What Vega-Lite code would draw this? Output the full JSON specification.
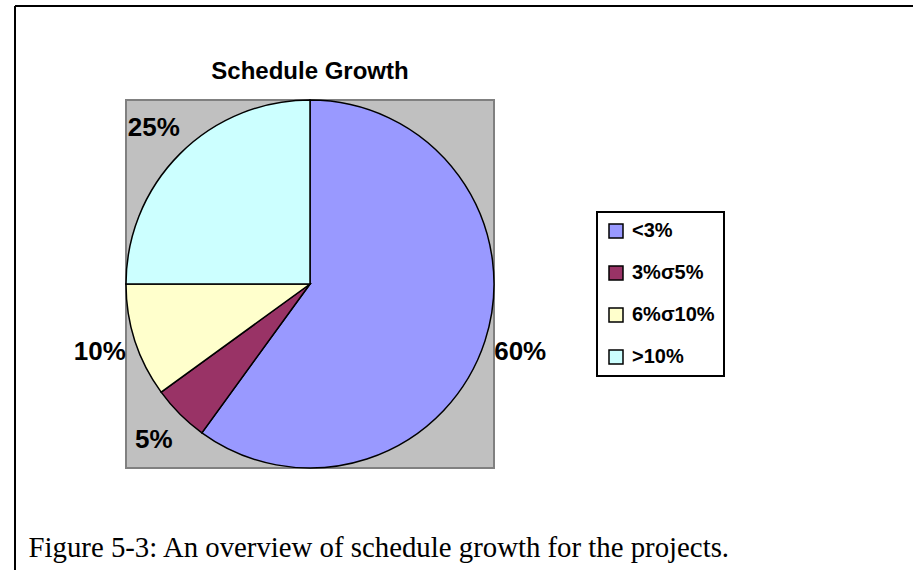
{
  "$schema": "https://vega.github.io/schema/vega-lite/v6.json",
  "width": 368,
  "height": 368,
  "autosize": {"type": "none"},
  "padding": {"left": 126, "top": 100, "right": 419, "bottom": 102},
  "background": "white",
  "data": {
    "values": [
      {"category": "<3%", "value": 60, "label": "60%", "order": 1},
      {"category": "3%σ5%", "value": 5, "label": "5%", "order": 2},
      {"category": "6%σ10%", "value": 10, "label": "10%", "order": 3},
      {"category": ">10%", "value": 25, "label": "25%", "order": 4}
    ]
  },
  "title": {
    "text": "Schedule Growth",
    "anchor": "middle",
    "font": "Liberation Sans",
    "fontSize": 24,
    "fontWeight": "bold",
    "color": "black",
    "offset": 16,
    "dy": 95
  },
  "config": {
    "view": {"fill": "#C0C0C0", "stroke": "#808080", "strokeWidth": 2},
    "legend": {"strokeWidth": 2}
  },
  "layer": [
    {
      "mark": {"type": "arc", "stroke": "black", "strokeWidth": 1.5},
      "encoding": {
        "theta": {"field": "value", "type": "quantitative", "stack": true},
        "order": {"field": "order", "type": "quantitative"},
        "color": {
          "field": "category",
          "type": "nominal",
          "scale": {
            "domain": ["<3%", "3%σ5%", "6%σ10%", ">10%"],
            "range": ["#9999FF", "#993366", "#FFFFCC", "#CCFFFF"]
          },
          "legend": {
            "title": null,
            "orient": "none",
            "legendX": 471,
            "legendY": 112,
            "padding": 9,
            "strokeColor": "black",
            "fillColor": "white",
            "symbolType": "square",
            "symbolSize": 196,
            "symbolStrokeColor": "black",
            "symbolStrokeWidth": 1.5,
            "symbolOpacity": 1,
            "labelFont": "Liberation Sans",
            "labelFontSize": 20,
            "labelFontWeight": "bold",
            "labelColor": "black",
            "labelOffset": 6,
            "rowPadding": 22
          }
        }
      }
    },
    {
      "mark": {
        "type": "text",
        "radius": 221,
        "font": "Liberation Sans",
        "fontSize": 26,
        "fontWeight": "bold",
        "color": "black",
        "align": "center",
        "baseline": "middle"
      },
      "encoding": {
        "theta": {"field": "value", "type": "quantitative", "stack": true},
        "order": {"field": "order", "type": "quantitative"},
        "text": {"field": "label", "type": "nominal"}
      }
    },
    {
      "mark": {"type": "rule", "clip": true, "color": "black"},
      "encoding": {
        "x": {
          "datum": 5,
          "type": "quantitative",
          "scale": {"domain": [0, 1]},
          "axis": {
            "orient": "bottom",
            "title": "Figure 5-3: An overview of schedule growth for the projects.",
            "domain": false,
            "ticks": false,
            "labels": false,
            "grid": false,
            "titleX": -98,
            "titleY": 88,
            "titleAlign": "left",
            "titleAnchor": "start",
            "titleBaseline": "alphabetic",
            "titleFont": "Liberation Serif",
            "titleFontSize": 28.8,
            "titleFontWeight": "normal",
            "titleColor": "black"
          }
        },
        "strokeDash": {
          "datum": "frame",
          "legend": {
            "title": null,
            "orient": "none",
            "legendX": -112,
            "legendY": -95,
            "padding": 0,
            "symbolType": "M1,-1H-1V1",
            "symbolSize": 1000000,
            "symbolStrokeColor": "black",
            "symbolStrokeWidth": 2,
            "symbolFillColor": "transparent",
            "labelExpr": "''",
            "labelOpacity": 0
          }
        }
      }
    }
  ]
}
